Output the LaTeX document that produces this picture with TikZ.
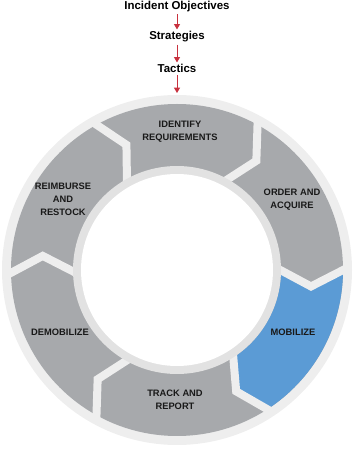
\documentclass[tikz,border=0pt]{standalone}
\usepackage{fontspec}
\setmainfont{Liberation Sans}
\usetikzlibrary{arrows.meta,positioning}
\definecolor{segmentgray}{HTML}{A7A9AC}
\definecolor{mobilizeblue}{HTML}{5B9BD5}
\definecolor{rimgray}{HTML}{EEEEEE}
\definecolor{innergray}{HTML}{E2E2E2}
\definecolor{arrowred}{HTML}{C8313E}

\begin{document}
\begin{tikzpicture}[x=0.75pt,y=0.75pt,
    phase/.style={font=\bfseries\fontsize{7}{9.75}\selectfont,align=center,text=black!90},
    goal/.style={font=\bfseries\fontsize{8.6}{10}\selectfont,inner sep=1.5pt,anchor=base},
    flow/.style={-{Triangle[width=4.5pt,length=4pt]},draw=arrowred,line width=0.7pt},
    gapline/.style={draw=rimgray,line width=6pt,line join=miter}]
  \useasboundingbox (0,0) rectangle (354,450);
  % planning chain on top
  \node[goal] (objectives) at (177,440.5) {Incident Objectives};
  \node[goal] (strategies) at (177,410) {Strategies};
  \node[goal] (tactics) at (177,377) {Tactics};
  \coordinate (cycletop) at (177,357);
  \draw[flow] (objectives) -- (strategies);
  \draw[flow] (strategies) -- (tactics);
  \draw[flow] (tactics) -- (cycletop);
  % resource cycle
  \begin{scope}[shift={(177,180)}]
    \fill[rimgray] (0,0) circle[radius=175];
    \fill[segmentgray] (0,0) circle[radius=166];
    \fill[mobilizeblue] (1:166) -- (-8:135) -- (1:104)
      arc[start angle=1,end angle=-56,radius=104] -- (-64:135) -- (-56:166)
      arc[start angle=-56,end angle=1,radius=166] -- cycle;
    \foreach \a in {120,62,1,-56,-118,182}
      \draw[gapline] (\a:172) -- (\a-8:135) -- (\a:100);
    \fill[innergray] (0,0) circle[radius=104];
    \fill[white] (0,0) circle[radius=96];
  \end{scope}
  \node[phase] (identify) at (180,318) {IDENTIFY\\REQUIREMENTS};
  \node[phase] (order) at (292,250) {ORDER AND\\ACQUIRE};
  \node[phase] (mobilize) at (293,118) {MOBILIZE};
  \node[phase] (track) at (175,50) {TRACK AND\\REPORT};
  \node[phase] (demobilize) at (60,118) {DEMOBILIZE};
  \node[phase] (reimburse) at (63,251) {REIMBURSE\\AND\\RESTOCK};
\end{tikzpicture}
\end{document}
